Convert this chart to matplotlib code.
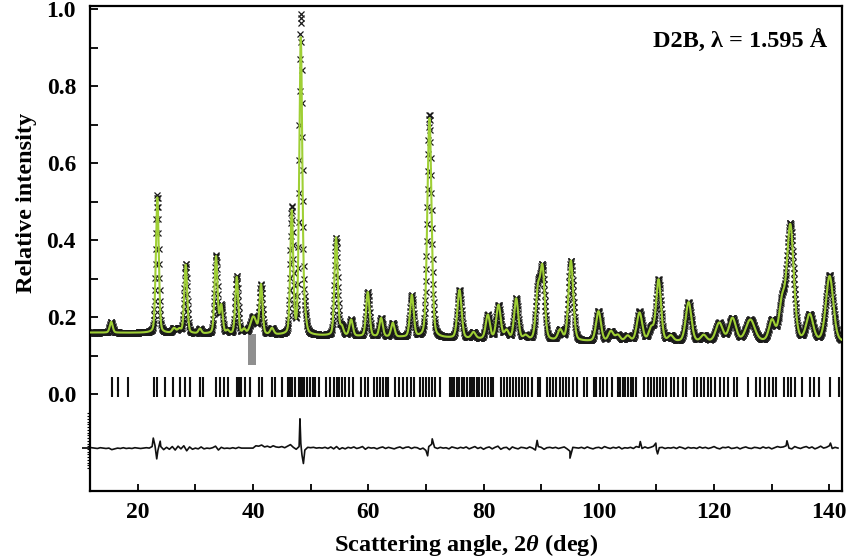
import numpy as np
import matplotlib
matplotlib.use("Agg")
import matplotlib.pyplot as plt
from matplotlib.patches import Rectangle

plt.rcParams['font.family'] = 'Liberation Serif'
plt.rcParams['font.weight'] = 'bold'
plt.rcParams['mathtext.fontset'] = 'custom'
plt.rcParams['mathtext.it'] = 'Liberation Serif:italic:bold'
plt.rcParams['mathtext.rm'] = 'Liberation Serif:bold'

# ------------------------------
# Peaks: position (deg), net height above background, FWHM (deg)
# ------------------------------
peak_pos = [15.4, 23.4, 26.3, 27.2, 28.33, 30.8, 33.59, 34.5, 35.6, 37.18, 38.45, 40.07,
            41.4, 43.3, 46.73, 48.29, 49.0, 54.42, 55.4, 57.03, 59.92, 62.23, 64.26,
            67.56, 70.62, 75.83, 78.26, 80.75, 82.6, 84.0, 85.67, 87.3, 89.43, 90.23,
            93.3, 95.16, 99.95, 102.1, 103.3, 105.0, 107.07, 109.1, 110.37, 112.5,
            115.58, 118.2, 120.9, 123.2, 126.3, 130.05, 131.8, 133.23, 136.6, 140.05]
peak_calc = [0.028, 0.352, 0.012, 0.010, 0.178, 0.012, 0.200, 0.072, 0.008, 0.148, 0.012, 0.045,
             0.128, 0.016, 0.318, 0.770, 0.038, 0.255, 0.022, 0.042, 0.115, 0.048, 0.036,
             0.108, 0.570, 0.125, 0.016, 0.062, 0.088, 0.022, 0.106, 0.010, 0.120, 0.182,
             0.026, 0.208, 0.078, 0.026, 0.016, 0.014, 0.074, 0.033, 0.160, 0.014,
             0.102, 0.016, 0.048, 0.060, 0.056, 0.052, 0.095, 0.300, 0.068, 0.170]
peak_obs = [0.028, 0.357, 0.012, 0.010, 0.180, 0.012, 0.203, 0.072, 0.008, 0.150, 0.012, 0.045,
            0.128, 0.016, 0.328, 0.830, 0.038, 0.255, 0.022, 0.042, 0.115, 0.048, 0.036,
            0.108, 0.580, 0.125, 0.016, 0.062, 0.088, 0.022, 0.106, 0.010, 0.125, 0.182,
            0.026, 0.208, 0.078, 0.026, 0.016, 0.014, 0.077, 0.033, 0.160, 0.014,
            0.102, 0.016, 0.048, 0.060, 0.056, 0.052, 0.095, 0.303, 0.068, 0.172]
peak_fwhm = [0.6, 0.6, 0.7, 0.7, 0.6, 0.6, 0.6, 0.6, 0.6, 0.6, 0.6, 1.2,
             0.6, 0.7, 0.6, 0.62, 0.6, 0.65, 0.7, 0.7, 0.7, 0.7, 0.7,
             0.75, 0.85, 0.85, 0.85, 0.85, 0.9, 0.85, 0.85, 0.85, 0.85, 0.9,
             0.9, 0.95, 1.0, 1.0, 1.0, 1.0, 1.1, 1.0, 1.0, 1.0,
             1.15, 1.1, 1.4, 1.4, 1.8, 1.2, 1.2, 1.4, 1.4, 1.5]

# background points (deg, relative intensity)
bg_angle = [11.7, 22.0, 45.0, 60.0, 73.0, 100.0, 142.2]
bg_level = [0.160, 0.159, 0.153, 0.149, 0.145, 0.136, 0.135]

# ------------------------------
# Difference curve Yobs - Ycalc, units of 1e-3, every 0.5 deg from 12.0
# ------------------------------
diff_start = 12.0
diff_vals = [
    1, 0, -1, 1, 0, -1, 0, -4, -2, 0, -1, 1, -1, 0, -1, 1, 0, -1, 0, 1,
    0, 4, 6, -6, 4, -4, 2, -3, 4, -5, 5, -2, 6, -7, 3, -3, 0, -2, 3, -2,
    0, -1, 1, 5, -5, 2, -1, 0, -1, 1, -1, 2, 0, 0, 0, 0, 0, 6, 5, 8,
    3, 5, 2, 6, 3, 2, 4, 1, 5, 9, 2, -3, 4, -18, -5, 2, 1, 2, 0, 1,
    0, 2, -1, 3, -2, 4, -3, 1, -2, 2, 0, 3, -1, 1, 4, -3, 2, 0, 1, -2,
    1, 3, -1, 2, 0, -2, 1, 3, -1, 2, 3, -1, 2, 1, -3, 0, -6, 4, 10, 2,
    -1, 2, 0, 1, -2, 3, 1, -1, 2, 0, 3, -2, 1, 4, -1, 2, -3, 1, 3, -2,
    2, 5, -3, 1, 2, -4, 3, 0, -2, 2, 1, -1, 3, 0, -5, 4, 2, -3, 1, 2,
    0, 2, -1, 1, 3, -2, -8, 2, 1, 0, 2, -1, 3, 0, -2, 1, 2, -1, 4, 1,
    -1, 2, 0, 3, -2, 1, 0, 2, -1, 4, 2, -1, 3, 0, 2, 5, -4, 1, 2, -1,
    1, 0, 2, -1, 3, 1, -2, 2, 0, 1, -1, 3, 0, 2, -1, 1, 4, 0, -2, 2,
    1, 3, -1, 0, 2, -2, 1, 3, 0, -1, 2, 1, -1, 3, 0, 2, -2, 1, 4, 2,
    3, 6, 0, -2, 4, 1, -1, 2, 4, 0, 3, -2, 1, 5, 0, 2, 6, -1, 2, 0,
]
# sharp misfit features at the strong reflections (deg, 1e-3)
spike_angle = [22.7, 23.3, 23.9, 48.15, 48.3, 48.75, 70.3, 71.1, 89.3, 95.0,
               107.2, 109.9, 110.2, 132.65, 140.2]
spike_value = [26, -28, 18, 76, 12, -40, -20, 24, 20, -26,
               17, 13, -15, 19, 13]

# Bragg reflection positions (deg)
bragg = [15.5, 16.5, 18.4, 22.8, 23.3, 24.7, 26.2, 27.3, 28.2, 29.0, 30.8, 31.3, 33.6, 34.3,
         35.0, 35.7, 37.2, 37.5, 37.9, 38.6, 39.5, 41.1, 41.5, 43.3, 43.8, 45.0, 46.0, 46.4,
         46.8, 47.3, 47.9, 48.3, 48.6, 48.9, 49.4, 49.9, 50.4, 50.8, 51.4, 52.7, 53.3, 54.0,
         54.5, 55.0, 55.4, 56.0, 56.6, 57.3, 58.8, 59.5, 60.0, 61.0, 61.5, 62.1, 62.5, 63.0,
         63.5, 64.7, 65.4, 66.1, 66.7, 67.4, 68.0, 68.9, 69.5, 70.0, 70.6, 71.0, 71.6, 72.4,
         74.1, 74.5, 74.9, 75.4, 75.8, 76.2, 76.6, 77.1, 77.6, 78.0, 78.4, 78.8, 79.3, 79.7,
         80.3, 80.8, 81.3, 81.7, 83.1, 83.6, 84.0, 84.6, 85.2, 85.7, 86.2, 86.6, 87.2, 87.8,
         88.4, 89.4, 89.8, 91.1, 91.6, 92.1, 92.6, 93.2, 93.8, 94.3, 94.9, 95.6, 96.3, 97.5,
         97.9, 99.1, 99.6, 100.2, 100.8, 101.5, 102.3, 103.3, 103.7, 104.2, 104.6, 105.0,
         105.6, 106.0, 106.5, 107.9, 108.5, 109.0, 109.5, 110.1, 110.7, 111.2, 111.7, 112.5,
         113.1, 113.8, 114.6, 115.2, 116.6, 117.1, 117.7, 118.3, 118.9, 119.5, 120.2, 121.0,
         121.7, 122.5, 123.4, 124.0, 125.9, 127.3, 128.0, 128.9, 129.5, 130.2, 130.8, 132.1,
         132.8, 133.4, 134.1, 135.3, 136.6, 137.4, 138.2, 140.1, 141.7]

# excluded region (deg)
excl_lo, excl_hi = 39.2, 40.5

diff_zero = -0.14
eta = 0.25


def profile(x, heights):
    y = np.interp(x, bg_angle, bg_level)
    for p, h, w in zip(peak_pos, heights, peak_fwhm):
        u = (x - p) / w
        y = y + h * ((1 - eta) * np.exp(-4 * np.log(2) * u**2) + eta / (1 + 4 * u**2))
    return y


x_obs = np.arange(11.75, 142.2, 0.05)
y_obs = profile(x_obs, peak_obs)
x_calc = np.arange(11.7, 142.2, 0.02)
y_calc = profile(x_calc, peak_calc)

d_x = diff_start + 0.5 * np.arange(len(diff_vals))
d_x = np.concatenate([d_x, spike_angle])
d_y = np.concatenate([diff_vals, spike_value]) / 1000.0
order = np.argsort(d_x)
d_x, d_y = d_x[order], d_y[order]

# ------------------------------
# Plot
# ------------------------------
fig = plt.figure(figsize=(8.49, 5.6), dpi=100)
ax = fig.add_axes([90 / 849, 69 / 560, 752 / 849, 485 / 560])

ax.add_patch(Rectangle((excl_lo, 0.076), excl_hi - excl_lo, 0.08,
                       facecolor='#8f8f8f', edgecolor='none', zorder=1))
ax.plot(x_obs, y_obs, linestyle='none', marker='x', ms=4, mew=0.9,
        color='#1a1a1a', zorder=2)
ax.plot(x_calc, y_calc, color='#9fcf35', lw=1.5, zorder=3)
ax.vlines(bragg, -0.0065, 0.045, color='#111111', lw=1.5, zorder=3)
ax.plot(d_x, diff_zero + d_y, color='#111111', lw=1.2, zorder=3)

ax.set_xlim(11.72, 142.2)
ax.set_ylim(-0.2514, 1.008)

ax.set_xticks(range(20, 141, 20))
ax.set_xticks(range(30, 131, 20), minor=True)
ax.set_yticks([0.0, 0.2, 0.4, 0.6, 0.8, 1.0])
ax.set_yticklabels(['0.0', '0.2', '0.4', '0.6', '0.8', '1.0'])
ax.set_yticks([0.1, 0.3, 0.5, 0.7, 0.9], minor=True)
ax.tick_params(axis='both', which='both', direction='in', width=1.3,
               labelsize=17, top=False, right=False)
ax.tick_params(axis='y', which='major', length=6, pad=10)
ax.tick_params(axis='y', which='minor', length=6)
ax.tick_params(axis='x', which='both', length=5, pad=8)
for s in ax.spines.values():
    s.set_linewidth(1.6)

# small ruler for the difference curve
sec = ax.secondary_yaxis('left')
sec.set_yticks([diff_zero])
sec.set_yticks(np.linspace(-0.192, -0.05, 21), minor=True)
sec.tick_params(which='major', direction='out', length=6, width=1.2, labelleft=False)
sec.tick_params(which='minor', direction='out', length=2.2, width=0.8)
sec.spines['left'].set_visible(False)

ax.set_xlabel(r'Scattering angle, 2$\theta$ (deg)', fontsize=17.5, fontweight='bold')
ax.set_ylabel('Relative intensity', fontsize=17.5, fontweight='bold')
ax.xaxis.set_label_coords(0.5, -0.085)
ax.yaxis.set_label_coords(-0.07, 0.594)

ax.text(0.981, 0.913, 'D2B, λ = 1.595 Å', transform=ax.transAxes, ha='right',
        va='baseline', fontsize=17.5, fontweight='bold')

fig.savefig('out.png', dpi=100)
